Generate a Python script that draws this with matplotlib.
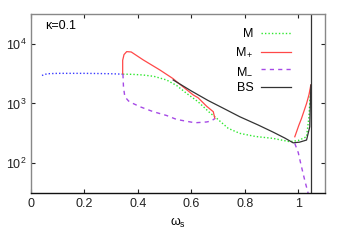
import matplotlib
matplotlib.use('Agg')
import matplotlib.pyplot as plt
from matplotlib.ticker import LogLocator, NullLocator

plt.rcParams['font.family'] = ['Liberation Sans', 'DejaVu Sans']
plt.rcParams['mathtext.fontset'] = 'custom'
plt.rcParams['mathtext.rm'] = 'Liberation Sans'
plt.rcParams['mathtext.it'] = 'Liberation Sans:italic'

# single-solution branch (blue dotted)
single_x = [0.041, 0.06, 0.1, 0.15, 0.2, 0.25, 0.3, 0.344]
single_y = [2950, 3150, 3200, 3200, 3200, 3180, 3150, 3100]

# M (green dotted)
m_x = [0.344, 0.38, 0.42, 0.46, 0.507, 0.545, 0.582, 0.625, 0.669, 0.688,
       0.738, 0.781, 0.84, 0.906, 0.968, 1.0, 1.031, 1.04, 1.047]
m_y = [3100, 3080, 3000, 2850, 2480, 2000, 1480, 1070, 700, 600,
       383, 316, 280, 260, 229, 240, 277, 600, 2040]

# M+ (red), two branches
mp1_x = [0.343, 0.343, 0.348, 0.358, 0.375, 0.42, 0.482, 0.532, 0.545,
         0.607, 0.625, 0.657, 0.682, 0.688]
mp1_y = [3100, 5300, 6600, 7400, 7300, 5370, 3650, 2600, 2320,
         1390, 1250, 900, 728, 560]
mp2_x = [0.987, 0.993, 1.002, 1.012, 1.031, 1.040, 1.047]
mp2_y = [277, 330, 430, 560, 1000, 1400, 2040]

# M- (purple dashed), two branches
mm1_x = [0.344, 0.346, 0.351, 0.365, 0.382, 0.407, 0.457, 0.507, 0.545,
         0.613, 0.657, 0.675, 0.688]
mm1_y = [3100, 1900, 1300, 1100, 1000, 885, 730, 630, 540,
         475, 490, 510, 560]
mm2_x = [0.987, 1.0, 1.012, 1.025, 1.038]
mm2_y = [214, 150, 87, 50, 30]

# BS (black)
bs_x = [0.532, 0.6, 0.663, 0.72, 0.781, 0.85, 0.906, 0.95, 0.981, 1.005,
        1.031, 1.043, 1.047]
bs_y = [2480, 1620, 1120, 830, 600, 436, 331, 263, 219, 225,
        244, 408, 2040]
bs_wall_x = 1.048

green = '#2ee82e'
red = '#ff4848'
purple = '#a64ae6'
blue = '#3a3aff'
black = '#333333'

fig = plt.figure(figsize=(3.46, 2.42), dpi=100)
ax = fig.add_axes([0.0896, 0.2025, 0.8497, 0.7397])

ax.plot(single_x, single_y, color=blue, lw=1, ls=(0, (1, 1.5)))
ax.plot(m_x, m_y, color=green, lw=1, ls=(0, (1, 1.5)), label='M')
ax.plot(mp1_x, mp1_y, color=red, lw=0.9, label='M$_+$')
ax.plot(mp2_x, mp2_y, color=red, lw=0.9)
ax.plot(mm1_x, mm1_y, color=purple, lw=1, ls=(0, (3, 3)), label='M$_{-}$')
ax.plot(mm2_x, mm2_y, color=purple, lw=1, ls=(0, (3, 3)))
ax.plot(bs_x, bs_y, color=black, lw=0.9, label='BS')
ax.axvline(bs_wall_x, color=black, lw=0.9)

ax.set_yscale('log')
ax.set_xlim(0, 1.1)
ax.set_ylim(10 ** 1.5, 10 ** 4.5)
ax.set_xticks([0, 0.2, 0.4, 0.6, 0.8, 1])
ax.set_xticklabels(['0', '0.2', '0.4', '0.6', '0.8', '1'])
ax.yaxis.set_major_locator(LogLocator(base=10, numticks=10))
ax.yaxis.set_minor_locator(NullLocator())
ax.tick_params(direction='in', length=3, width=0.8, labelsize=9,
               top=True, right=True, colors='#222222')
for side in ['left', 'top', 'right']:
    ax.spines[side].set_color('#888888')
ax.spines['bottom'].set_color('#111111')
for s in ax.spines.values():
    s.set_linewidth(1)

ax.set_xlabel('ω$_\\mathrm{s}$', fontsize=9, labelpad=4)
ax.text(0.048, 0.933, 'κ=0.1', transform=ax.transAxes, fontsize=9,
        va='center', ha='left')

ax.legend(loc='upper right', bbox_to_anchor=(0.884, 0.92), frameon=False,
          markerfirst=False, fontsize=9, handlelength=2.4,
          handletextpad=0.6, labelspacing=0.45, borderpad=0,
          borderaxespad=0)

fig.savefig('out.png', dpi=100)
